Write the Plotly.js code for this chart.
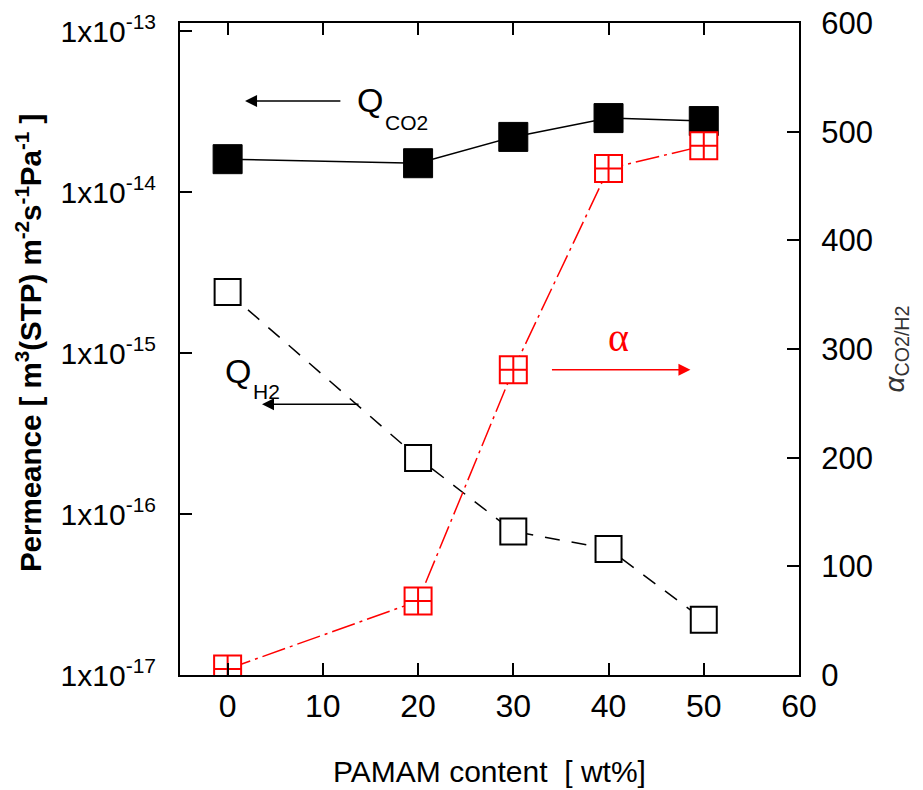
<!DOCTYPE html>
<html>
<head>
<meta charset="utf-8">
<script src="https://cdn.plot.ly/plotly-3.0.1.min.js"></script>
<style>html,body{margin:0;padding:0;background:#fff;}#chart{width:923px;height:790px;}</style>
</head>
<body>
<div id="chart"></div>
<script>
// PAMAM content [wt%]
const pamam = [0, 20, 30, 40, 50];
// CO2 permeance [m3(STP) m-2 s-1 Pa-1]
const qCO2 = [1.60e-14, 1.51e-14, 2.20e-14, 2.88e-14, 2.76e-14];
// H2 permeance [m3(STP) m-2 s-1 Pa-1]
const qH2 = [2.39e-15, 2.23e-16, 7.8e-17, 6.07e-17, 2.2e-17];
// CO2/H2 selectivity
const alpha = [5.5, 68, 281, 466, 487];

const leftTickVals = [1e-17, 1e-16, 1e-15, 1e-14, 1e-13];
const leftTickText = ["1x10<sup>-17</sup>", "1x10<sup>-16</sup>", "1x10<sup>-15</sup>", "1x10<sup>-14</sup>", "1x10<sup>-13</sup>"];

const FONT = "Liberation Sans, Arial, sans-serif";

const traces = [
  {
    x: pamam, y: qCO2, type: "scatter", mode: "lines+markers",
    line: {color: "#000", width: 1.5},
    marker: {symbol: "square", size: 29, color: "#000", line: {color: "#000", width: 1}},
    xaxis: "x", yaxis: "y"
  },
  {
    x: pamam, y: qH2, type: "scatter", mode: "lines+markers",
    line: {color: "#000", width: 1.5, dash: "15px,12px"},
    marker: {symbol: "square", size: 26, color: "#fff", line: {color: "#000", width: 2}},
    xaxis: "x", yaxis: "y"
  },
  {
    x: pamam, y: alpha, type: "scatter", mode: "lines+markers",
    line: {color: "#ff0000", width: 1.5, dash: "24px,5px,3px,5px"},
    marker: {symbol: "square-cross", size: 27, color: "#fff", line: {color: "#ff0000", width: 2}},
    xaxis: "x", yaxis: "y2"
  }
];

const layout = {
  width: 923, height: 790,
  margin: {l: 180, r: 124, t: 23, b: 115, pad: 0},
  paper_bgcolor: "#fff", plot_bgcolor: "#fff",
  showlegend: false,
  font: {family: FONT, color: "#000"},
  xaxis: {
    range: [-5, 60], tick0: 0, dtick: 10,
    ticks: "inside", ticklen: 12, tickwidth: 2, tickcolor: "#000",
    showline: true, linewidth: 2, linecolor: "#000", mirror: "ticks",
    showgrid: false, zeroline: false,
    tickfont: {family: FONT, size: 32, color: "#000"},
    ticklabelstandoff: 2,
    title: {text: "PAMAM content&nbsp; [ wt%]", font: {family: FONT, size: 30, color: "#000"}, standoff: 38}
  },
  yaxis: {
    type: "log", range: [-17, -12.95],
    tickvals: leftTickVals, ticktext: leftTickText,
    ticks: "inside", ticklen: 12, tickwidth: 2, tickcolor: "#000",
    showline: true, linewidth: 2, linecolor: "#000", mirror: false,
    showgrid: false, zeroline: false,
    tickfont: {family: FONT, size: 30, color: "#000"},
    ticklabelstandoff: 16,
    title: {text: ""}
  },
  yaxis2: {
    overlaying: "y", side: "right", range: [0, 600], tick0: 0, dtick: 100,
    ticks: "inside", ticklen: 12, tickwidth: 2, tickcolor: "#000",
    showline: true, linewidth: 2, linecolor: "#000",
    showgrid: false, zeroline: false,
    tickfont: {family: FONT, size: 31, color: "#000"},
    ticklabelstandoff: 14,
    title: {text: "<i>α</i><sub>CO2/H2</sub>", font: {family: FONT, size: 28, color: "#333"}, standoff: 12}
  },
  annotations: [
    // left axis title
    {xref: "paper", yref: "paper", x: -0.2456, y: 0.509, xanchor: "center", yanchor: "middle", textangle: -90,
     showarrow: false, text: "<b>Permeance [ m<sup>3</sup>(STP) m<sup>-2</sup>s<sup>-1</sup>Pa<sup>-1</sup> ]</b>",
     font: {family: FONT, size: 29.5, color: "#000"}},
    // Q_CO2 label and arrow
    {xref: "x", yref: "y", x: 1.83, y: -13.435, axref: "x", ayref: "y", ax: 12.0, ay: -13.435,
     showarrow: true, arrowhead: 2, arrowsize: 1.6, arrowwidth: 1.5, arrowcolor: "#000", text: ""},
    {xref: "x", yref: "y", x: 14.96, y: -13.429, xanchor: "center", yanchor: "middle", showarrow: false,
     text: "Q", font: {family: FONT, size: 34, color: "#000"}},
    {xref: "x", yref: "y", x: 16.32, y: -13.565, xanchor: "left", yanchor: "middle", showarrow: false,
     text: "CO2", font: {family: FONT, size: 21, color: "#000"}},
    // Q_H2 label and arrow
    {xref: "x", yref: "y", x: 3.61, y: -15.318, axref: "x", ayref: "y", ax: 13.9, ay: -15.318,
     showarrow: true, arrowhead: 2, arrowsize: 1.6, arrowwidth: 1.5, arrowcolor: "#000", text: ""},
    {xref: "x", yref: "y", x: 1.09, y: -15.112, xanchor: "center", yanchor: "middle", showarrow: false,
     text: "Q", font: {family: FONT, size: 34, color: "#000"}},
    {xref: "x", yref: "y", x: 2.46, y: -15.236, xanchor: "left", yanchor: "middle", showarrow: false,
     text: "H2", font: {family: FONT, size: 21, color: "#000"}},
    // alpha label and arrow
    {xref: "x", yref: "y2", x: 48.6, y: 281, axref: "x", ayref: "y2", ax: 33.9, ay: 281,
     showarrow: true, arrowhead: 2, arrowsize: 1.6, arrowwidth: 1.5, arrowcolor: "#ff0000", text: ""},
    {xref: "x", yref: "y2", x: 41.0, y: 311, xanchor: "center", yanchor: "middle", showarrow: false,
     text: "α", font: {family: "Liberation Serif, Times New Roman, serif", size: 40, color: "#ff0000"}}
  ]
};

Plotly.newPlot("chart", traces, layout, {displayModeBar: false, staticPlot: true});
</script>
</body>
</html>
